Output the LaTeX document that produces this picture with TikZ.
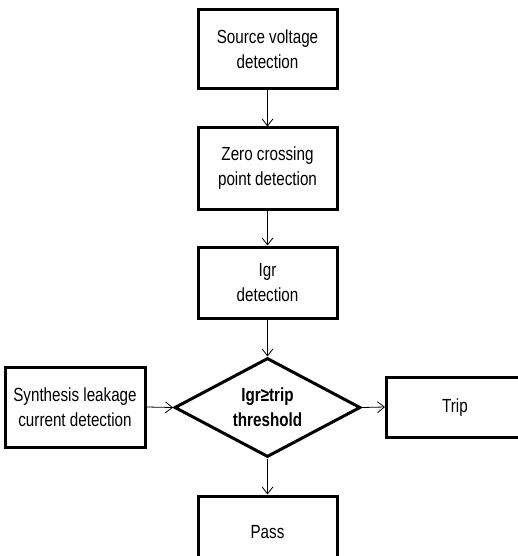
\documentclass[tikz,border=0pt]{standalone}
\usepackage{fontspec}
\setmainfont{Liberation Sans}[FakeStretch=0.8]
\usetikzlibrary{shapes.geometric,arrows.meta}
\begin{document}
\begin{tikzpicture}[x=1pt,y=-1pt,
  txt/.style={font=\fontsize{19}{25}\selectfont},
  box/.style={draw,line width=3pt,rectangle,align=center,inner sep=0pt,txt},
  dec/.style={draw,line width=3pt,diamond,aspect=1.88,align=center,inner sep=0pt,
    minimum width=186pt,minimum height=99pt,font=\bfseries\fontsize{19}{25}\selectfont},
  flow/.style={line width=0.8pt,-{Straight Barb[length=7pt,width=11pt,line width=0.8pt]}}]
\useasboundingbox (0,0) rectangle (518,556);
\clip (0,0) rectangle (518,556);
\node[box,minimum width=139pt,minimum height=79pt] (src) at (267.5,49.5) {Source voltage\\detection};
\node[box,minimum width=139pt,minimum height=81pt] (zero) at (267.5,168.5) {Zero crossing\\point detection};
\node[box,minimum width=139pt,minimum height=71pt] (igr) at (267.5,282.5) {Igr\\detection};
\node[dec] (dec) at (267.5,407.5) {Igr≥trip\\threshold};
\node[box,minimum width=140pt,minimum height=80pt] (syn) at (75,407) {Synthesis leakage\\current detection};
\node[box,minimum width=145pt,minimum height=60pt,anchor=west] (trip) at (385,407) {};
\node[txt] (triplbl) at (455,408) {Trip};
\node[box,minimum width=139pt,minimum height=72pt] (pass) at (267.5,532) {Pass};
\draw[flow] (src.south) -- (zero.north);
\draw[flow] (zero.south) -- (igr.north);
\draw[flow] (igr.south) -- (dec.north);
\draw[flow] (syn.east) -- (dec.west);
\draw[flow] (dec.east) -- (trip.west);
\draw[flow] (dec.south) -- (pass.north);
\end{tikzpicture}
\end{document}
